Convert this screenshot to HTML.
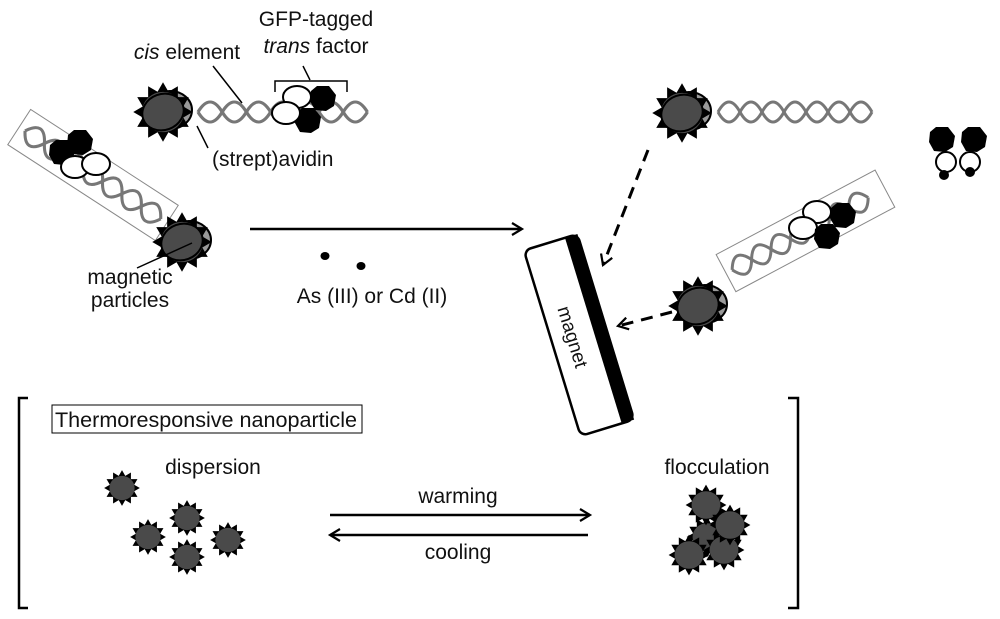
<!DOCTYPE html>
<html><head><meta charset="utf-8"><style>
html,body{margin:0;padding:0;background:#fff}
svg{display:block}
text{font-family:"Liberation Sans",sans-serif;fill:#111}
</style></head><body>
<svg width="1000" height="619" viewBox="0 0 1000 619" xmlns="http://www.w3.org/2000/svg">
<defs>
<symbol id="star" overflow="visible">
<polygon points="17,0 11.59,3.11 14.72,8.5 8.49,8.49 8.5,14.72 3.11,11.59 0,17 -3.11,11.59 -8.5,14.72 -8.49,8.49 -14.72,8.5 -11.59,3.11 -17,0 -11.59,-3.11 -14.72,-8.5 -8.49,-8.49 -8.5,-14.72 -3.11,-11.59 0,-17 3.11,-11.59 8.5,-14.72 8.49,-8.49 14.72,-8.5 11.59,-3.11" fill="#000"/>
<ellipse cx="0" cy="0" rx="12" ry="11.5" fill="#4a4a4a"/>
</symbol>
<symbol id="big" overflow="visible">
<ellipse cx="7" cy="-2" rx="22" ry="19" fill="#999" stroke="#000" stroke-width="2"/>
<g transform="scale(1.75)"><use href="#star"/></g>
<ellipse cx="0" cy="0" rx="21" ry="18" fill="#4a4a4a" stroke="#000" stroke-width="2" transform="rotate(-20)"/>
</symbol>
<symbol id="hex" overflow="visible">
<polygon points="-6,-12 6,-12 13,-3 11,8 3,13 -8,12 -13,3 -12,-7" fill="#000"/>
</symbol>
<symbol id="oval" overflow="visible">
<ellipse cx="0" cy="0" rx="14" ry="11" fill="#fff" stroke="#000" stroke-width="2"/>
</symbol>
<symbol id="dna" overflow="visible">
<g fill="none" stroke="#777" stroke-width="3">
<path d="M0,0 q11,-20 22,0 t22,0 t22,0 t22,0 t22,0 t22,0 t22,0"/>
<path d="M0,0 q11,20 22,0 t22,0 t22,0 t22,0 t22,0 t22,0 t22,0"/>
</g>
</symbol>
<marker id="ah" markerWidth="14" markerHeight="14" refX="11" refY="7" orient="auto" markerUnits="userSpaceOnUse">
<path d="M1,1 L11,7 L1,13" fill="none" stroke="#000" stroke-width="2.2"/>
</marker>
</defs>

<!-- top center construct -->
<g transform="translate(198,112) scale(1.1,1)"><use href="#dna"/></g>
<use href="#big" x="163" y="112"/>
<use href="#oval" x="297" y="97"/>
<use href="#hex" x="323" y="98"/>
<use href="#hex" x="308" y="120"/>
<use href="#oval" x="286" y="113"/>
<path d="M275,92 V81 H347 V92" fill="none" stroke="#000" stroke-width="1.5"/>
<line x1="310" y1="80" x2="303" y2="66" stroke="#000" stroke-width="1.5"/>
<text x="316" y="26" font-size="21" text-anchor="middle">GFP-tagged</text>
<text x="316" y="53" font-size="21" text-anchor="middle"><tspan font-style="italic">trans</tspan> factor</text>
<text x="187" y="59" font-size="21" text-anchor="middle"><tspan font-style="italic">cis</tspan> element</text>
<line x1="213" y1="66" x2="242" y2="103" stroke="#000" stroke-width="1.5"/>
<line x1="197" y1="126" x2="208" y2="148" stroke="#000" stroke-width="1.5"/>
<text x="212" y="166" font-size="21">(strept)avidin</text>

<!-- left tilted construct -->
<g transform="rotate(33 93 175)">
<rect x="5" y="154" width="176" height="42" fill="none" stroke="#888" stroke-width="1"/>
<g transform="translate(12,175) scale(1.05,1)"><use href="#dna"/></g>
</g>
<use href="#hex" x="62" y="152"/>
<use href="#hex" x="80" y="142"/>
<use href="#oval" x="75" y="167"/>
<use href="#oval" x="96" y="164"/>
<use href="#big" x="182" y="242"/>
<line x1="192" y1="243" x2="137" y2="268" stroke="#000" stroke-width="1.5"/>
<text x="130" y="284" font-size="21" text-anchor="middle">magnetic</text>
<text x="130" y="307" font-size="21" text-anchor="middle">particles</text>

<!-- main arrow -->
<line x1="250" y1="229" x2="522" y2="229" stroke="#000" stroke-width="2.5" marker-end="url(#ah)"/>
<ellipse cx="325" cy="256" rx="4.5" ry="4" fill="#000"/>
<ellipse cx="361" cy="266" rx="4.5" ry="4" fill="#000"/>
<text x="372" y="303" font-size="21" text-anchor="middle">As (III) or Cd (II)</text>

<!-- magnet -->
<g transform="rotate(-17 579 335)">
<rect x="551" y="238" width="56" height="194" rx="7" fill="#fff" stroke="#000" stroke-width="2.5"/>
<rect x="594" y="238" width="13" height="194" fill="#000"/>
<text x="0" y="0" font-size="19" text-anchor="middle" transform="translate(566,335) rotate(90)">magnet</text>
</g>

<!-- right side -->
<g transform="translate(718,112)"><use href="#dna"/></g>
<use href="#big" x="682" y="113"/>
<line x1="648" y1="150" x2="603" y2="265" stroke="#000" stroke-width="3" stroke-dasharray="12,8" marker-end="url(#ah)"/>
<g transform="rotate(-28 805 230)">
<rect x="715" y="210" width="180" height="42" fill="none" stroke="#888" stroke-width="1"/>
<g transform="translate(722,231)"><use href="#dna"/></g>
</g>
<use href="#oval" x="817" y="212"/>
<use href="#oval" x="803" y="228"/>
<use href="#hex" x="843" y="215"/>
<use href="#hex" x="827" y="236"/>
<use href="#big" x="698" y="306"/>
<line x1="672" y1="312" x2="618" y2="326" stroke="#000" stroke-width="3" stroke-dasharray="12,8" marker-end="url(#ah)"/>

<!-- free factors -->
<circle cx="946" cy="162" r="10" fill="#fff" stroke="#000" stroke-width="2"/>
<circle cx="970" cy="162" r="10" fill="#fff" stroke="#000" stroke-width="2"/>
<circle cx="944" cy="175" r="5" fill="#000"/>
<circle cx="970" cy="172" r="5" fill="#000"/>
<use href="#hex" x="942" y="139"/>
<use href="#hex" x="974" y="139"/>

<!-- bottom section -->
<path d="M28,398 H19 V608 H28" fill="none" stroke="#000" stroke-width="2.5"/>
<path d="M788,398 H798 V608 H788" fill="none" stroke="#000" stroke-width="2.5"/>
<rect x="52" y="405" width="310" height="28" fill="#fff" stroke="#000" stroke-width="1"/>
<text x="55" y="427" font-size="21" textLength="302" lengthAdjust="spacingAndGlyphs">Thermoresponsive nanoparticle</text>
<text x="213" y="474" font-size="21" text-anchor="middle">dispersion</text>
<g transform="translate(122,488) scale(1.05)"><use href="#star"/></g>
<g transform="translate(187,518) scale(1.05)"><use href="#star"/></g>
<g transform="translate(148,537) scale(1.05)"><use href="#star"/></g>
<g transform="translate(228,540) scale(1.05)"><use href="#star"/></g>
<g transform="translate(187,557) scale(1.05)"><use href="#star"/></g>
<line x1="330" y1="515" x2="590" y2="515" stroke="#000" stroke-width="2.5" marker-end="url(#ah)"/>
<line x1="588" y1="535" x2="330" y2="535" stroke="#000" stroke-width="2.5" marker-end="url(#ah)"/>
<text x="458" y="503" font-size="21" text-anchor="middle">warming</text>
<text x="458" y="559" font-size="21" text-anchor="middle">cooling</text>
<text x="717" y="474" font-size="21" text-anchor="middle">flocculation</text>
<g transform="translate(707,537) scale(1.2)"><use href="#star"/></g>
<g transform="translate(706,505) scale(1.2)"><use href="#star"/></g>
<g transform="translate(689,555) scale(1.2)"><use href="#star"/></g>
<g transform="translate(724,550) scale(1.2)"><use href="#star"/></g>
<g transform="translate(730,525) scale(1.2)"><use href="#star"/></g>
</svg>
</body></html>
